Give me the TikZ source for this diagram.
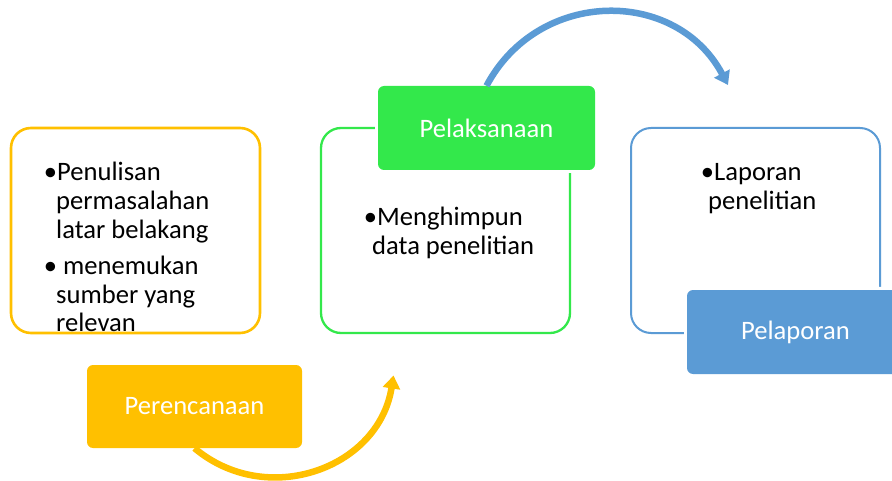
\documentclass[tikz,border=0pt]{standalone}
\usepackage{fontspec}
\setmainfont{Carlito}
\usetikzlibrary{arrows.meta}
\definecolor{cyel}{HTML}{FFC000}
\definecolor{cgrn}{HTML}{33E84B}
\definecolor{cblu}{HTML}{5B9BD5}
\newcommand{\bul}[1]{\leavevmode\llap{•\kern-#1}\kern#1}
\tikzset{
  outerbox/.style={rounded corners=20pt, fill=white},
  labelbox/.style={rounded corners=6pt, minimum width=#1, minimum height=84pt,
     text=white, font=\fontsize{26.6}{29}\selectfont, inner sep=0pt,
     preaction={draw=white, line width=6pt}},
  bodytext/.style={anchor=base west, inner sep=0pt, font=\fontsize{26.6}{29}\selectfont, text=black},
  flow/.style={line width=6.5pt, -{Triangle[width=17pt,length=13pt]}}
}
\begin{document}
\begin{tikzpicture}[x=1pt,y=1pt]
\useasboundingbox (0,0) rectangle (892,480);
\fill[white] (0,0) rectangle (892,480);
% outline boxes
\draw[outerbox, draw=cyel, line width=2.6pt] (11,147) rectangle (260,352);
\draw[outerbox, draw=cgrn, line width=2.3pt] (321,147) rectangle (570,352);
\draw[outerbox, draw=cblu, line width=2pt] (631,147) rectangle (880,352);
% body texts
\node[bodytext] (t1) at (56,299) {\parbox[t]{200pt}{\raggedright\baselineskip=28.8pt
  \bul{1pt}Penulisan\\ permasalahan\\ latar belakang\\[7pt]\bul{1pt}\ menemukan\\ sumber yang\\ relevan}};
\node[bodytext] (t2) at (372,254) {\parbox[t]{200pt}{\raggedright\baselineskip=28.5pt
  \bul{5pt}Menghimpun\\ data penelitian}};
\node[bodytext] (t3) at (708,299) {\parbox[t]{200pt}{\raggedright\baselineskip=28.5pt
  \bul{6pt}Laporan\\ penelitian}};
% label boxes
\node[labelbox=215pt, fill=cyel, minimum height=83pt] (peren) at (194.5,73.5) {Perencanaan};
\node[labelbox=217pt, fill=cgrn] (pelak) at (486.5,352) {Pelaksanaan};
\begin{scope}
\clip (0,0) rectangle (892,480);
\node[labelbox=217pt, fill=cblu] (pelap) at (795.5,148) {Pelaporan};
\end{scope}
% arrows
\coordinate (ytip) at (393.5,104.5);
\coordinate (btip) at (728,395);
\draw[flow, cyel] (peren.south) to[out=-40, in=261, looseness=1.14] (ytip);
\draw[flow, cblu] (pelak.north) to[out=62, in=118, looseness=1.17] (btip);
\end{tikzpicture}
\end{document}
